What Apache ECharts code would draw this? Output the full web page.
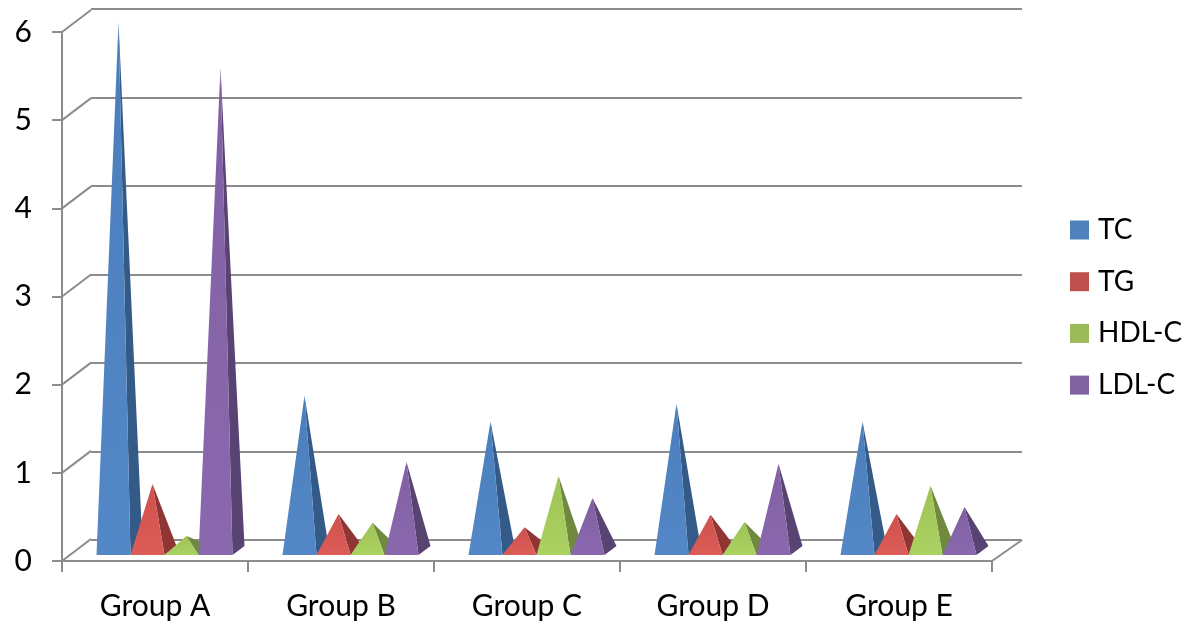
<!DOCTYPE html>
<html>
<head>
<meta charset="utf-8">
<style>html,body{margin:0;padding:0;background:#fff}#main{width:1199px;height:626px}</style>
<script src="https://cdn.jsdelivr.net/npm/echarts@6/dist/echarts.min.js"></script>
</head>
<body>
<div id="main"></div>
<script>
var categories = ['Group A', 'Group B', 'Group C', 'Group D', 'Group E'];
var TC = [6.0, 1.76, 1.47, 1.67, 1.47];
var TG = [0.76, 0.42, 0.27, 0.41, 0.42];
var HDL = [0.17, 0.32, 0.85, 0.33, 0.74];
var LDL = [5.48, 1.01, 0.6, 0.99, 0.5];
var yTicks = [0, 1, 2, 3, 4, 5, 6];

var names = ['TC', 'TG', 'HDL-C', 'LDL-C'];
var values = [TC, TG, HDL, LDL];
var legendColors = ['#4f81bd', '#c0504d', '#9bbb59', '#8064a2'];
var frontTop = ['#4a7ebb', '#d0504d', '#9fc254', '#8060a2'];
var frontBottom = ['#5387c7', '#dc5c58', '#aad262', '#8a68ae'];
var sideColors = ['#345b88', '#8f3634', '#6f893e', '#584372'];

var gridColor = '#8c8c8c';
var font = 'Lato, "Open Sans", sans-serif';
var myChart = echarts.init(document.getElementById('main'));

// one pyramid: front face plus the darker right side
function pyramid(seriesIndex) {
    return function (params, api) {
        var base = api.coord([api.value(0), 0]);
        var top = api.coord([api.value(0), api.value(1)]);
        var x0 = base[0] - 58.5 + seriesIndex * 34;
        var y0 = base[1] - 6;
        var apex = [x0 + 22, top[1] - 10];
        return {
            type: 'group',
            children: [{
                type: 'polygon',
                shape: { points: [[x0 + 34, y0], [x0 + 46, y0 - 9], apex] },
                style: { fill: sideColors[seriesIndex] }
            }, {
                type: 'polygon',
                shape: { points: [[x0, y0], [x0 + 34, y0], apex] },
                style: {
                    fill: new echarts.graphic.LinearGradient(0, 0, 0, 1, [
                        { offset: 0, color: frontTop[seriesIndex] },
                        { offset: 1, color: frontBottom[seriesIndex] }
                    ])
                }
            }]
        };
    };
}

// diagonals from the front axis to the back wall, and the right floor edge
function wallEdges(params, api) {
    var p = api.coord([0, api.value(0)]);
    var left = p[0] - api.size([1, 0])[0] / 2;
    var lineStyle = { stroke: gridColor, lineWidth: 2 };
    var children = [{
        type: 'line',
        shape: { x1: left, y1: p[1], x2: left + 29, y2: p[1] - 22 },
        style: lineStyle
    }];
    if (api.value(0) === 0) {
        var right = left + api.size([1, 0])[0] * categories.length;
        children.push({
            type: 'line',
            shape: { x1: right, y1: p[1], x2: right + 30, y2: p[1] - 21 },
            style: lineStyle
        });
    }
    return { type: 'group', children: children };
}

var series = [{
    type: 'custom',
    name: 'wall',
    xAxisIndex: 0,
    yAxisIndex: 0,
    renderItem: wallEdges,
    silent: true,
    z: 1,
    encode: { y: 0 },
    data: yTicks.map(function (t) { return [t]; })
}];

names.forEach(function (name, i) {
    series.push({
        type: 'custom',
        name: name,
        xAxisIndex: 0,
        yAxisIndex: 0,
        z: 3 + i,
        itemStyle: { color: legendColors[i] },
        renderItem: pyramid(i),
        encode: { x: 0, y: 1 },
        data: values[i].map(function (v, j) { return [j, v]; })
    });
});

var option = {
    animation: false,
    backgroundColor: '#fff',
    legend: {
        data: names,
        orient: 'vertical',
        left: 1065,
        top: 211,
        itemWidth: 19,
        itemHeight: 19,
        itemGap: 23.7,
        icon: 'rect',
        textStyle: { color: '#000', fontFamily: font, fontSize: 28, padding: [0, 0, 0, 4] }
    },
    grid: [
        { left: 62, right: 207, top: 32, height: 529 },
        { left: 91, width: 931, top: 9, height: 531 }
    ],
    xAxis: [{
        type: 'category',
        data: categories,
        gridIndex: 0,
        axisLine: { lineStyle: { color: gridColor, width: 2 } },
        axisTick: { show: true, length: 11, lineStyle: { color: gridColor, width: 2 } },
        axisLabel: { color: '#000', fontFamily: font, fontSize: 30, margin: 30 }
    }, {
        type: 'value',
        gridIndex: 1,
        show: false
    }],
    yAxis: [{
        type: 'value',
        gridIndex: 0,
        min: 0,
        max: 6,
        interval: 1,
        axisLine: { show: true, lineStyle: { color: gridColor, width: 2 } },
        axisTick: { show: true, length: 10, lineStyle: { color: gridColor, width: 2 } },
        axisLabel: { color: '#000', fontFamily: font, fontSize: 30, margin: 30 },
        splitLine: { show: false }
    }, {
        type: 'value',
        gridIndex: 1,
        min: 0,
        max: 6,
        interval: 1,
        axisLine: { show: false },
        axisTick: { show: false },
        axisLabel: { show: false },
        splitLine: { show: true, lineStyle: { color: gridColor, width: 2 } }
    }],
    series: series
};

myChart.setOption(option);
window.onresize = function () {
    myChart.resize();
};
</script>
</body>
</html>
